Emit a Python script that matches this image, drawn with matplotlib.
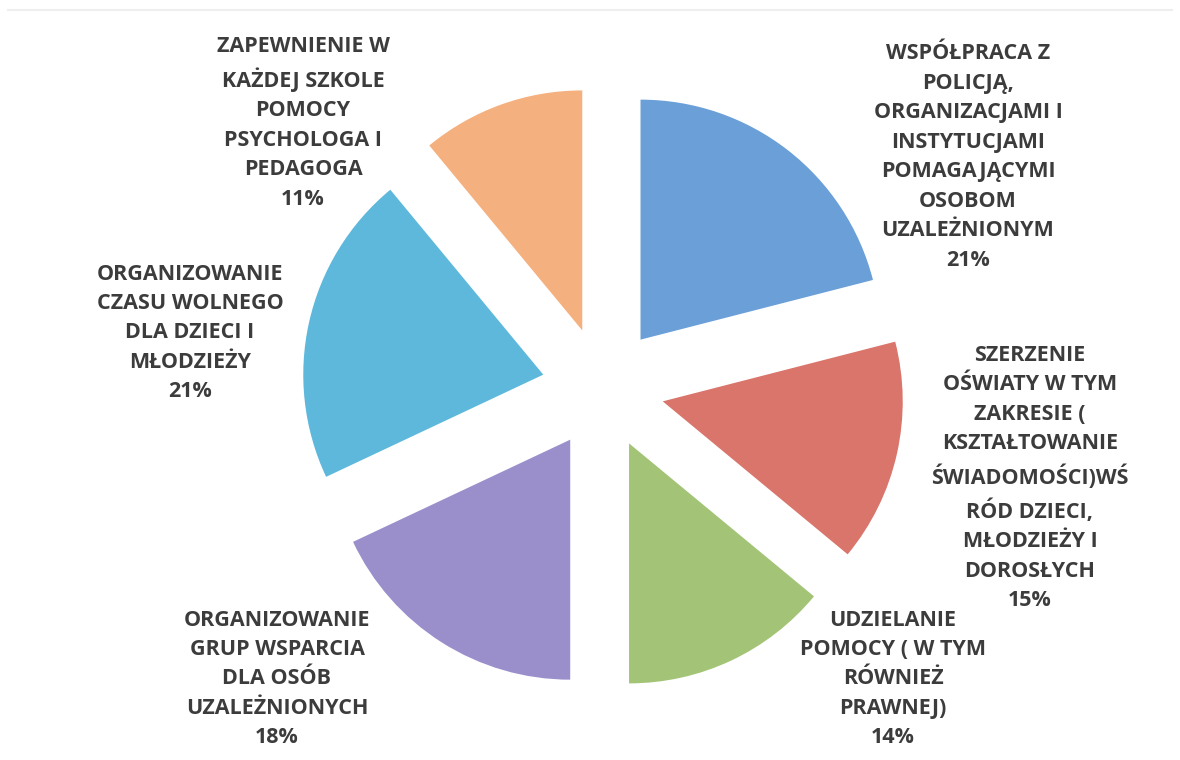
import matplotlib
matplotlib.use("Agg")
import matplotlib.pyplot as plt

# Data (clockwise from top)
categories = [
    "WSPÓŁPRACA Z\nPOLICJĄ,\nORGANIZACJAMI I\nINSTYTUCJAMI\nPOMAGAJĄCYMI\nOSOBOM\nUZALEŻNIONYM",
    "SZERZENIE\nOŚWIATY W TYM\nZAKRESIE (\nKSZTAŁTOWANIE\nŚWIADOMOŚCI)WŚ\nRÓD DZIECI,\nMŁODZIEŻY I\nDOROSŁYCH",
    "UDZIELANIE\nPOMOCY ( W TYM\nRÓWNIEŻ\nPRAWNEJ)",
    "ORGANIZOWANIE\nGRUP WSPARCIA\nDLA OSÓB\nUZALEŻNIONYCH",
    "ORGANIZOWANIE\nCZASU WOLNEGO\nDLA DZIECI I\nMŁODZIEŻY",
    "ZAPEWNIENIE W\nKAŻDEJ SZKOLE\nPOMOCY\nPSYCHOLOGA I\nPEDAGOGA",
]
values = [21, 15, 14, 18, 21, 11]
colors = ["#6A9FD8", "#D9756B", "#A3C476", "#9A8FCB", "#5DB8DB", "#F5B07F"]

W, H = 1180, 760
R = 240.0  # pixels per data unit
cx, cy = 603, 372  # pie centre in pixels (from bottom-left)

fig = plt.figure(figsize=(W / 100, H / 100), dpi=100)
fig.patch.set_facecolor("white")
ax = fig.add_axes([0, 0, 1, 1])

ax.pie(values, colors=colors, startangle=90, counterclock=False,
       explode=[0.255] * len(values), radius=1.0, center=(0, 0),
       wedgeprops=dict(linewidth=0))

ax.set_xlim(-cx / R, (W - cx) / R)
ax.set_ylim(-cy / R, (H - cy) / R)
ax.set_aspect("equal")
ax.axis("off")

# label centre positions (pixels from top-left)
label_pos = [(968, 157), (1030, 478), (893, 679), (277, 679), (190, 333), (303, 123)]

for cat, val, (px, py) in zip(categories, values, label_pos):
    txt = f"{cat}\n{val}%"
    ax.text((px - cx) / R, ((H - py) - cy) / R, txt,
            ha="center", va="center", multialignment="center",
            fontsize=15.5, fontweight="bold", color="#3C3C3C",
            family=["Open Sans", "DejaVu Sans"], linespacing=1.53)

# faint frame line at top
ax.plot([(8 - cx) / R, (1172 - cx) / R], [((H - 10) - cy) / R] * 2,
        color="#EEEEEE", linewidth=1.5)

fig.savefig("out.png", dpi=100, facecolor="white")
